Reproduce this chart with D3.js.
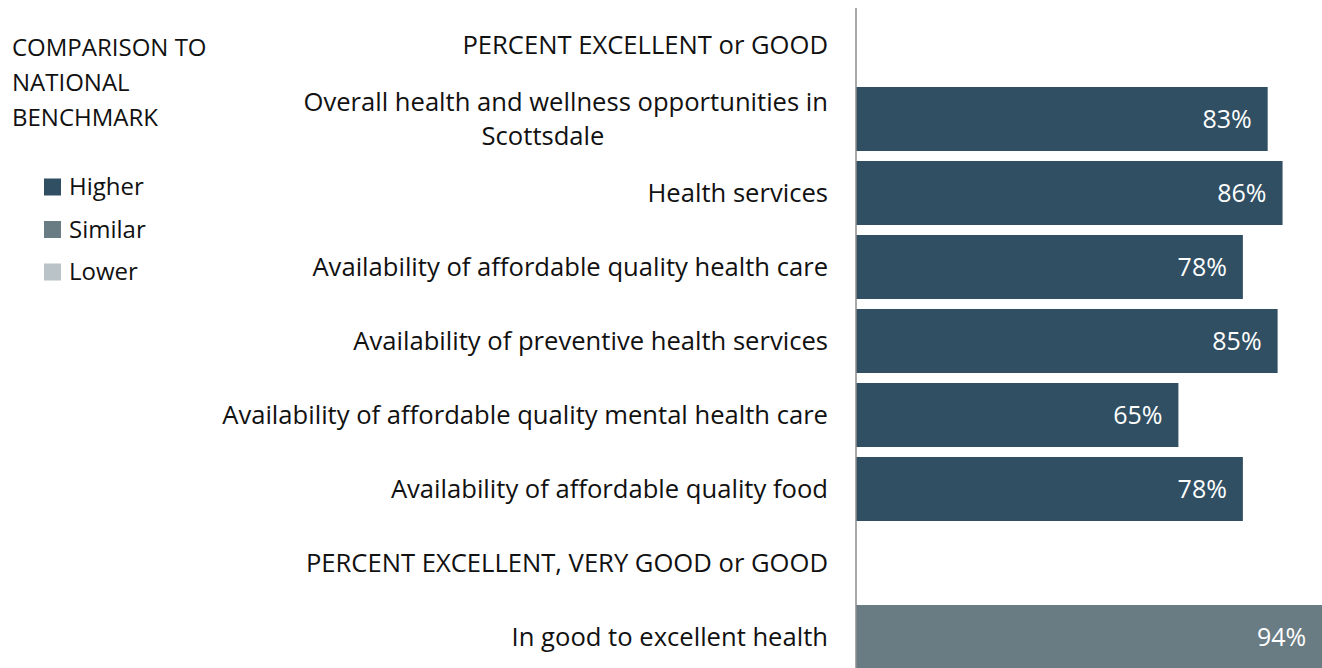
<!DOCTYPE html>
<html>
<head>
<meta charset="utf-8">
<script src="https://cdn.jsdelivr.net/npm/d3@7"></script>
<style>
  body { margin: 0; background: #fff; }
  svg { display: block; font-family: "Open Sans", sans-serif; }
</style>
</head>
<body>
<script>
// data
var rowLabels = [
  ['PERCENT EXCELLENT or GOOD'],
  ['Overall health and wellness opportunities in', 'Scottsdale'],
  ['Health services'],
  ['Availability of affordable quality health care'],
  ['Availability of preventive health services'],
  ['Availability of affordable quality mental health care'],
  ['Availability of affordable quality food'],
  ['PERCENT EXCELLENT, VERY GOOD or GOOD'],
  ['In good to excellent health']
];
var rowValues = [null, 83, 86, 78, 85, 65, 78, null, 94];
var rowBenchmark = [null, 'Higher', 'Higher', 'Higher', 'Higher', 'Higher', 'Higher', null, 'Similar'];

var legendTitle = ['COMPARISON TO', 'NATIONAL', 'BENCHMARK'];
var legendKeys = ['Higher', 'Similar', 'Lower'];
var legendColors = ['#304f63', '#697b83', '#bac4c8'];

// ----------------------------------------------------------------------------
var width = 1322, height = 668;

var svg = d3.select('body').append('svg')
  .attr('width', width)
  .attr('height', height);

var color = d3.scaleOrdinal()
  .domain(legendKeys)
  .range(legendColors);

var rows = rowLabels.map(function (d, i) {
  return { i: i, lines: d, value: rowValues[i], bench: rowBenchmark[i] };
});

var y = d3.scaleBand()
  .domain(rows.map(function (d) { return d.i; }))
  .range([8, 674])
  .paddingInner(0.135)
  .paddingOuter(0.0675);

var x = d3.scaleLinear()
  .domain([0, 100])
  .range([856, 1352]);

// bars
var bars = svg.selectAll('rect.bar')
  .data(rows.filter(function (d) { return d.value !== null; }))
  .enter()
  .append('rect')
  .attr('class', 'bar')
  .attr('x', x(0))
  .attr('y', function (d) { return y(d.i); })
  .attr('width', function (d) { return x(d.value) - x(0); })
  .attr('height', y.bandwidth())
  .style('fill', function (d) { return color(d.bench); });

// value labels
svg.selectAll('text.val')
  .data(rows.filter(function (d) { return d.value !== null; }))
  .enter()
  .append('text')
  .attr('class', 'val')
  .attr('x', function (d) { return x(d.value) - 16; })
  .attr('y', function (d) { return y(d.i) + y.bandwidth() / 2; })
  .attr('dy', '0.35em')
  .attr('text-anchor', 'end')
  .style('font-size', '25px')
  .style('fill', '#fff')
  .text(function (d) { return d.value + '%'; });

// category labels (wrapped lines: first line right-aligned, rest centred under it)
var labels = svg.selectAll('text.cat')
  .data(rows)
  .enter()
  .append('text')
  .attr('class', 'cat')
  .style('font-size', '25.6px')
  .style('fill', '#111');

labels.selectAll('tspan')
  .data(function (d) {
    var cy = y(d.i) + y.bandwidth() / 2;
    var n = d.lines.length;
    return d.lines.map(function (t, k) {
      return { t: t, k: k, y: cy + (k - (n - 1) / 2) * 34 };
    });
  })
  .enter()
  .append('tspan')
  .attr('x', function (d) { return d.k === 0 ? 828 : 543; })
  .attr('y', function (d) { return d.y; })
  .attr('dy', '0.35em')
  .attr('text-anchor', function (d) { return d.k === 0 ? 'end' : 'middle'; })
  .text(function (d) { return d.t; });

// axis line
svg.append('line')
  .attr('x1', x(0)).attr('x2', x(0))
  .attr('y1', 8).attr('y2', height)
  .style('stroke', '#8c8c8c')
  .style('stroke-width', 1.5);

// legend
svg.selectAll('text.ltitle')
  .data(legendTitle)
  .enter()
  .append('text')
  .attr('class', 'ltitle')
  .attr('x', 12)
  .attr('y', function (d, i) { return 48 + i * 35; })
  .attr('dy', '0.35em')
  .style('font-size', '24px')
  .style('fill', '#111')
  .text(function (d) { return d; });

var legend = svg.selectAll('g.leg')
  .data(legendKeys)
  .enter()
  .append('g')
  .attr('class', 'leg')
  .attr('transform', function (d, i) { return 'translate(44,' + (187 + i * 42.5) + ')'; });

legend.append('rect')
  .attr('x', 0)
  .attr('y', -8.5)
  .attr('width', 17)
  .attr('height', 17)
  .style('fill', function (d) { return color(d); });

legend.append('text')
  .attr('x', 25)
  .attr('y', 0)
  .attr('dy', '0.35em')
  .style('font-size', '24px')
  .style('fill', '#111')
  .text(function (d) { return d; });
</script>
</body>
</html>
